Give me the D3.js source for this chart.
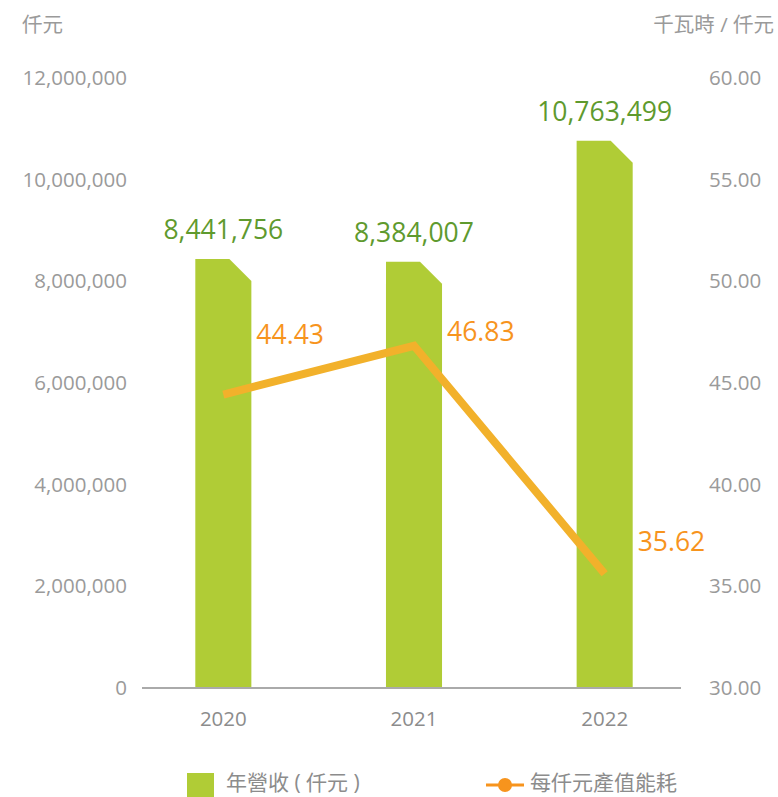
<!DOCTYPE html>
<html>
<head>
<meta charset="utf-8">
<script src="https://cdn.jsdelivr.net/npm/d3@7"></script>
<style>
  html, body { margin: 0; padding: 0; background: #fff; }
  svg { display: block; font-family: "Open Sans", "Noto Sans CJK TC", sans-serif; }
</style>
</head>
<body>
<svg id="chart" width="778" height="797"></svg>
<script>
// Annual revenue (thousand NTD) and energy use per thousand NTD of output
const years = ["2020", "2021", "2022"];
const revenue = [8441756, 8384007, 10763499];
const energyIntensity = [44.43, 46.83, 35.62];
const leftTicks = [0, 2000000, 4000000, 6000000, 8000000, 10000000, 12000000];
const rightTicks = [30, 35, 40, 45, 50, 55, 60];
const revenueLabel = "年營收 ( 仟元 )";
const intensityLabel = "每仟元產值能耗";
const leftUnit = "仟元";
const rightUnit = "千瓦時 / 仟元";

const svg = d3.select("#chart");
const baseY = 688, topY = 78;

const x = d3.scaleBand().domain(years).range([128, 700]).paddingInner(0.706).paddingOuter(0.353);
const yL = d3.scaleLinear().domain([0, 12000000]).range([baseY, topY]);
const yR = d3.scaleLinear().domain([30, 60]).range([baseY, topY]);

const grey = "#9a9a9a";
const barColor = "#b0cc36";
const lineColor = "#f2b12b";
const orange = "#f7941d";
const green = "#5f9a2e";

// unit captions
svg.append("text").attr("x", 22).attr("y", 32).attr("fill", grey)
  .attr("font-size", 20.5).text(leftUnit);
svg.append("text").attr("x", 774).attr("y", 32).attr("fill", grey)
  .attr("text-anchor", "end").attr("font-size", 20.5).text(rightUnit);

// left axis labels
const fmt = d3.format(",");
svg.append("g").selectAll("text").data(leftTicks).join("text")
  .attr("x", 127).attr("y", d => yL(d) + 1.5)
  .attr("text-anchor", "end").attr("dominant-baseline", "middle")
  .attr("font-size", 20.5).attr("fill", grey).text(d => fmt(d));

// right axis labels
svg.append("g").selectAll("text").data(rightTicks).join("text")
  .attr("x", 709).attr("y", d => yR(d) + 1.5)
  .attr("dominant-baseline", "middle")
  .attr("font-size", 20.5).attr("fill", grey).text(d => d.toFixed(2));

// bars with a clipped top-right corner
const cut = 22;
svg.append("g").selectAll("path").data(years).join("path")
  .attr("fill", barColor)
  .attr("d", (d, i) => {
    const x0 = x(d), x1 = x(d) + x.bandwidth(), yt = yL(revenue[i]);
    return `M${x0},${baseY}L${x0},${yt}L${x1 - cut},${yt}L${x1},${yt + cut}L${x1},${baseY}Z`;
  });

// baseline
svg.append("line").attr("x1", 142).attr("x2", 681).attr("y1", baseY).attr("y2", baseY)
  .attr("stroke", "#aaaaaa").attr("stroke-width", 2);

// year labels
svg.append("g").selectAll("text").data(years).join("text")
  .attr("x", d => x(d) + x.bandwidth() / 2).attr("y", 721)
  .attr("text-anchor", "middle").attr("dominant-baseline", "middle")
  .attr("font-size", 20.5).attr("fill", "#8c8c8c").text(d => d);

// revenue value labels
svg.append("g").selectAll("text").data(years).join("text")
  .attr("x", d => x(d) + x.bandwidth() / 2)
  .attr("y", (d, i) => yL(revenue[i]) - 27)
  .attr("text-anchor", "middle").attr("dominant-baseline", "middle")
  .attr("font-size", 26.5).attr("fill", green).text((d, i) => fmt(revenue[i]));

// energy intensity line
const line = d3.line()
  .x((d, i) => x(years[i]) + x.bandwidth() / 2)
  .y(d => yR(d));
svg.append("path").datum(energyIntensity)
  .attr("fill", "none").attr("stroke", lineColor).attr("stroke-width", 8)
  .attr("stroke-linejoin", "miter").attr("d", line);

// intensity value labels, placed beside each bar
const labelDy = [-58, -12, -30];
svg.append("g").selectAll("text").data(energyIntensity).join("text")
  .attr("x", (d, i) => x(years[i]) + x.bandwidth() + 5)
  .attr("y", (d, i) => yR(d) + labelDy[i])
  .attr("dominant-baseline", "middle")
  .attr("font-size", 26.5).attr("fill", orange).text(d => d.toFixed(2));

// legend
const lg = svg.append("g");
lg.append("rect").attr("x", 187).attr("y", 773).attr("width", 27).attr("height", 24).attr("fill", barColor);
lg.append("text").attr("x", 226).attr("y", 784).attr("dominant-baseline", "middle")
  .attr("font-size", 21).attr("fill", "#8c8c8c").text(revenueLabel);
lg.append("line").attr("x1", 486).attr("x2", 524).attr("y1", 785).attr("y2", 785)
  .attr("stroke", orange).attr("stroke-width", 3);
lg.append("circle").attr("cx", 505).attr("cy", 785).attr("r", 7).attr("fill", orange);
lg.append("text").attr("x", 530).attr("y", 784).attr("dominant-baseline", "middle")
  .attr("font-size", 21).attr("fill", "#8c8c8c").text(intensityLabel);
</script>
</body>
</html>
